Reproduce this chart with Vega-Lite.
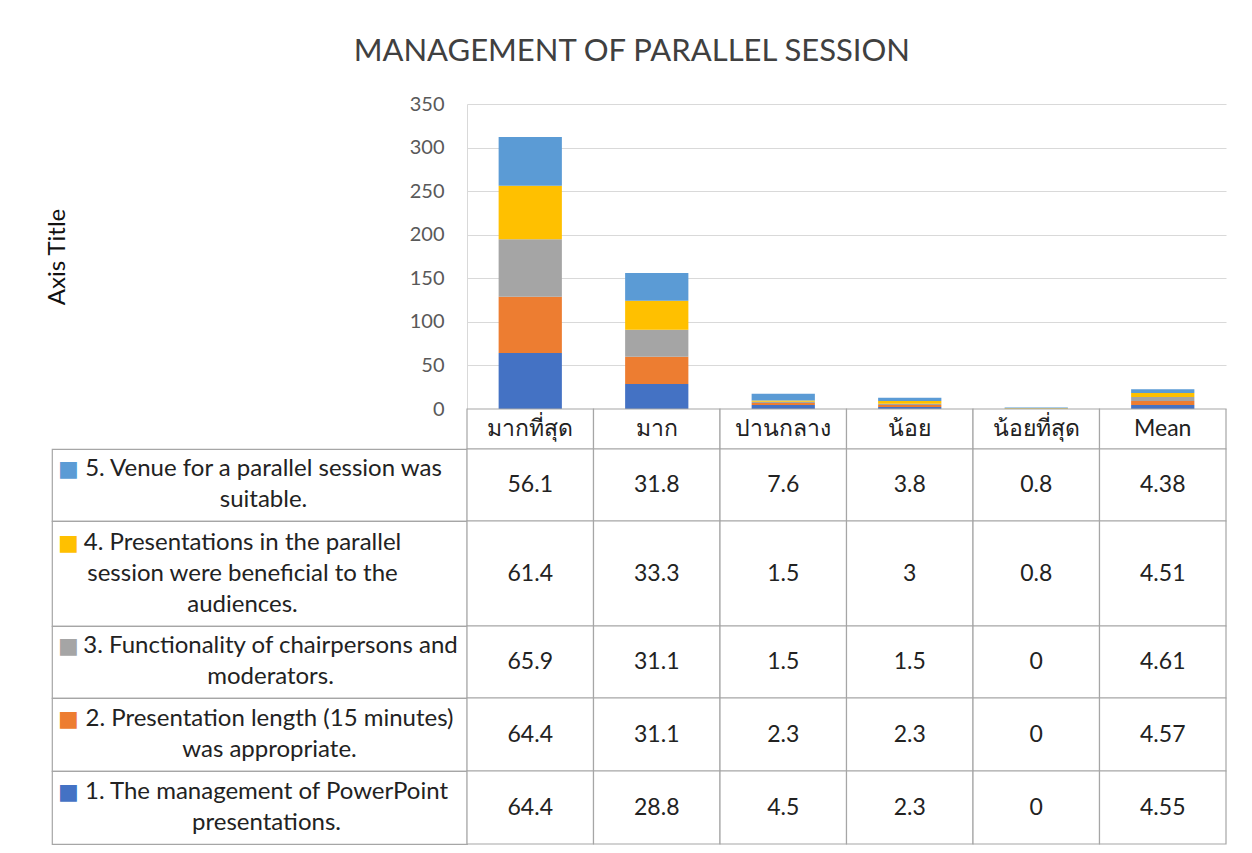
{
  "$schema": "https://vega.github.io/schema/vega-lite/v6.json",
  "padding": {"left": 45, "top": 36, "right": 20, "bottom": 5},
  "title": {"text": "MANAGEMENT OF PARALLEL SESSION", "anchor": "middle", "dx": -4, "fontSize": 31, "fontWeight": "normal", "color": "#404040", "offset": 26},
  "config": {"font": "Lato, 'Noto Sans', 'DejaVu Sans', sans-serif", "view": {"stroke": null}},
  "datasets": {
    "vals": [
      {"series": "1", "cat": "มากที่สุด", "value": 64.4}, {"series": "1", "cat": "มาก", "value": 28.8}, {"series": "1", "cat": "ปานกลาง", "value": 4.5}, {"series": "1", "cat": "น้อย", "value": 2.3}, {"series": "1", "cat": "น้อยที่สุด", "value": 0}, {"series": "1", "cat": "Mean", "value": 4.55},
      {"series": "2", "cat": "มากที่สุด", "value": 64.4}, {"series": "2", "cat": "มาก", "value": 31.1}, {"series": "2", "cat": "ปานกลาง", "value": 2.3}, {"series": "2", "cat": "น้อย", "value": 2.3}, {"series": "2", "cat": "น้อยที่สุด", "value": 0}, {"series": "2", "cat": "Mean", "value": 4.57},
      {"series": "3", "cat": "มากที่สุด", "value": 65.9}, {"series": "3", "cat": "มาก", "value": 31.1}, {"series": "3", "cat": "ปานกลาง", "value": 1.5}, {"series": "3", "cat": "น้อย", "value": 1.5}, {"series": "3", "cat": "น้อยที่สุด", "value": 0}, {"series": "3", "cat": "Mean", "value": 4.61},
      {"series": "4", "cat": "มากที่สุด", "value": 61.4}, {"series": "4", "cat": "มาก", "value": 33.3}, {"series": "4", "cat": "ปานกลาง", "value": 1.5}, {"series": "4", "cat": "น้อย", "value": 3}, {"series": "4", "cat": "น้อยที่สุด", "value": 0.8}, {"series": "4", "cat": "Mean", "value": 4.51},
      {"series": "5", "cat": "มากที่สุด", "value": 56.1}, {"series": "5", "cat": "มาก", "value": 31.8}, {"series": "5", "cat": "ปานกลาง", "value": 7.6}, {"series": "5", "cat": "น้อย", "value": 3.8}, {"series": "5", "cat": "น้อยที่สุด", "value": 0.8}, {"series": "5", "cat": "Mean", "value": 4.38}
    ],
    "labels": [
      {"series": "1", "label": "1. The management of PowerPoint\npresentations."},
      {"series": "2", "label": "2. Presentation length (15 minutes)\nwas appropriate."},
      {"series": "3", "label": "3. Functionality of chairpersons and\nmoderators."},
      {"series": "4", "label": "4. Presentations in the parallel\nsession were beneficial to the\naudiences."},
      {"series": "5", "label": "5. Venue for a parallel session was\nsuitable."}
    ]
  },
  "columns": 2,
  "spacing": 0,
  "bounds": "flush",
  "concat": [
    {"width": 415, "height": 305, "data": {"values": [{}]}, "mark": {"type": "text"}, "encoding": {"text": {"value": ""}}},
    {
      "width": 759, "height": 305,
      "data": {"name": "vals"},
      "mark": {"type": "bar", "width": {"band": 0.5}},
      "encoding": {
        "x": {"field": "cat", "type": "nominal", "scale": {"domain": ["มากที่สุด", "มาก", "ปานกลาง", "น้อย", "น้อยที่สุด", "Mean"], "paddingInner": 0, "paddingOuter": 0}, "axis": null},
        "y": {"field": "value", "type": "quantitative", "stack": "zero", "scale": {"domain": [0, 350], "nice": false},
          "axis": {"values": [0, 50, 100, 150, 200, 250, 300, 350], "grid": true, "gridColor": "#d9d9d9", "domainColor": "#d9d9d9", "ticks": false, "labelPadding": 23, "labelFontSize": 20, "labelColor": "#595959", "title": "Axis Title", "titleFontSize": 24, "titleFontWeight": "normal", "titleColor": "#111111", "titleX": -398, "titleY": 152.5}},
        "color": {"field": "series", "type": "nominal", "scale": {"domain": ["1", "2", "3", "4", "5"], "range": ["#4472C4", "#ED7D31", "#A5A5A5", "#FFC000", "#5B9BD5"]}, "legend": null},
        "order": {"field": "series", "type": "ordinal", "sort": "ascending"}
      }
    },
    {"width": 415, "height": 40, "data": {"values": [{}]}, "mark": {"type": "text"}, "encoding": {"text": {"value": ""}}},
    {
      "width": 759, "height": 40,
      "data": {"name": "vals"},
      "transform": [{"filter": "datum.series == '1'"}],
      "encoding": {"x": {"field": "cat", "type": "nominal", "scale": {"domain": ["มากที่สุด", "มาก", "ปานกลาง", "น้อย", "น้อยที่สุด", "Mean"], "paddingInner": 0, "paddingOuter": 0}, "axis": null}},
      "layer": [
        {"mark": {"type": "rect", "fill": "white", "stroke": "#a6a6a6", "strokeWidth": 1.2}},
        {"mark": {"type": "text", "fontSize": 23, "color": "#222222"}, "encoding": {"text": {"field": "cat", "type": "nominal"}}}
      ]
    },
    {
      "width": 415, "height": 72, "view": {"stroke": "#a6a6a6", "strokeWidth": 1.2},
      "data": {"name": "labels"},
      "transform": [{"filter": "datum.series == '5'"}],
      "layer": [
        {"mark": {"type": "text", "fontSize": 24, "lineBreak": "\n", "lineHeight": 31, "align": "center", "dx": 4, "dy": -16, "color": "#222222"}, "encoding": {"text": {"field": "label", "type": "nominal"}}},
        {"mark": {"type": "text", "fontSize": 22, "font": "DejaVu Sans", "align": "center", "dx": -191, "dy": -16, "color": "#5B9BD5"}, "encoding": {"text": {"value": "■"}}}
      ]
    },
    {
      "width": 759, "height": 72,
      "data": {"name": "vals"},
      "transform": [{"filter": "datum.series == '5'"}],
      "encoding": {"x": {"field": "cat", "type": "nominal", "scale": {"domain": ["มากที่สุด", "มาก", "ปานกลาง", "น้อย", "น้อยที่สุด", "Mean"], "paddingInner": 0, "paddingOuter": 0}, "axis": null}},
      "layer": [
        {"mark": {"type": "rect", "fill": "white", "stroke": "#a6a6a6", "strokeWidth": 1.2}},
        {"mark": {"type": "text", "fontSize": 23, "color": "#222222"}, "encoding": {"text": {"field": "value", "type": "nominal"}}}
      ]
    },
    {
      "width": 415, "height": 105, "view": {"stroke": "#a6a6a6", "strokeWidth": 1.2},
      "data": {"name": "labels"},
      "transform": [{"filter": "datum.series == '4'"}],
      "layer": [
        {"mark": {"type": "text", "fontSize": 24, "lineBreak": "\n", "lineHeight": 31, "align": "center", "dx": -17, "dy": -31, "color": "#222222"}, "encoding": {"text": {"field": "label", "type": "nominal"}}},
        {"mark": {"type": "text", "fontSize": 22, "font": "DejaVu Sans", "align": "center", "dx": -191, "dy": -31, "color": "#FFC000"}, "encoding": {"text": {"value": "■"}}}
      ]
    },
    {
      "width": 759, "height": 105,
      "data": {"name": "vals"},
      "transform": [{"filter": "datum.series == '4'"}],
      "encoding": {"x": {"field": "cat", "type": "nominal", "scale": {"domain": ["มากที่สุด", "มาก", "ปานกลาง", "น้อย", "น้อยที่สุด", "Mean"], "paddingInner": 0, "paddingOuter": 0}, "axis": null}},
      "layer": [
        {"mark": {"type": "rect", "fill": "white", "stroke": "#a6a6a6", "strokeWidth": 1.2}},
        {"mark": {"type": "text", "fontSize": 23, "color": "#222222"}, "encoding": {"text": {"field": "value", "type": "nominal"}}}
      ]
    },
    {
      "width": 415, "height": 72, "view": {"stroke": "#a6a6a6", "strokeWidth": 1.2},
      "data": {"name": "labels"},
      "transform": [{"filter": "datum.series == '3'"}],
      "layer": [
        {"mark": {"type": "text", "fontSize": 24, "lineBreak": "\n", "lineHeight": 31, "align": "center", "dx": 11, "dy": -16, "color": "#222222"}, "encoding": {"text": {"field": "label", "type": "nominal"}}},
        {"mark": {"type": "text", "fontSize": 22, "font": "DejaVu Sans", "align": "center", "dx": -191, "dy": -16, "color": "#A5A5A5"}, "encoding": {"text": {"value": "■"}}}
      ]
    },
    {
      "width": 759, "height": 72,
      "data": {"name": "vals"},
      "transform": [{"filter": "datum.series == '3'"}],
      "encoding": {"x": {"field": "cat", "type": "nominal", "scale": {"domain": ["มากที่สุด", "มาก", "ปานกลาง", "น้อย", "น้อยที่สุด", "Mean"], "paddingInner": 0, "paddingOuter": 0}, "axis": null}},
      "layer": [
        {"mark": {"type": "rect", "fill": "white", "stroke": "#a6a6a6", "strokeWidth": 1.2}},
        {"mark": {"type": "text", "fontSize": 23, "color": "#222222"}, "encoding": {"text": {"field": "value", "type": "nominal"}}}
      ]
    },
    {
      "width": 415, "height": 73, "view": {"stroke": "#a6a6a6", "strokeWidth": 1.2},
      "data": {"name": "labels"},
      "transform": [{"filter": "datum.series == '2'"}],
      "layer": [
        {"mark": {"type": "text", "fontSize": 24, "lineBreak": "\n", "lineHeight": 31, "align": "center", "dx": 10, "dy": -16, "color": "#222222"}, "encoding": {"text": {"field": "label", "type": "nominal"}}},
        {"mark": {"type": "text", "fontSize": 22, "font": "DejaVu Sans", "align": "center", "dx": -191, "dy": -16, "color": "#ED7D31"}, "encoding": {"text": {"value": "■"}}}
      ]
    },
    {
      "width": 759, "height": 73,
      "data": {"name": "vals"},
      "transform": [{"filter": "datum.series == '2'"}],
      "encoding": {"x": {"field": "cat", "type": "nominal", "scale": {"domain": ["มากที่สุด", "มาก", "ปานกลาง", "น้อย", "น้อยที่สุด", "Mean"], "paddingInner": 0, "paddingOuter": 0}, "axis": null}},
      "layer": [
        {"mark": {"type": "rect", "fill": "white", "stroke": "#a6a6a6", "strokeWidth": 1.2}},
        {"mark": {"type": "text", "fontSize": 23, "color": "#222222"}, "encoding": {"text": {"field": "value", "type": "nominal"}}}
      ]
    },
    {
      "width": 415, "height": 73, "view": {"stroke": "#a6a6a6", "strokeWidth": 1.2},
      "data": {"name": "labels"},
      "transform": [{"filter": "datum.series == '1'"}],
      "layer": [
        {"mark": {"type": "text", "fontSize": 24, "lineBreak": "\n", "lineHeight": 31, "align": "center", "dx": 7, "dy": -16, "color": "#222222"}, "encoding": {"text": {"field": "label", "type": "nominal"}}},
        {"mark": {"type": "text", "fontSize": 22, "font": "DejaVu Sans", "align": "center", "dx": -191, "dy": -16, "color": "#4472C4"}, "encoding": {"text": {"value": "■"}}}
      ]
    },
    {
      "width": 759, "height": 73,
      "data": {"name": "vals"},
      "transform": [{"filter": "datum.series == '1'"}],
      "encoding": {"x": {"field": "cat", "type": "nominal", "scale": {"domain": ["มากที่สุด", "มาก", "ปานกลาง", "น้อย", "น้อยที่สุด", "Mean"], "paddingInner": 0, "paddingOuter": 0}, "axis": null}},
      "layer": [
        {"mark": {"type": "rect", "fill": "white", "stroke": "#a6a6a6", "strokeWidth": 1.2}},
        {"mark": {"type": "text", "fontSize": 23, "color": "#222222"}, "encoding": {"text": {"field": "value", "type": "nominal"}}}
      ]
    }
  ]
}
